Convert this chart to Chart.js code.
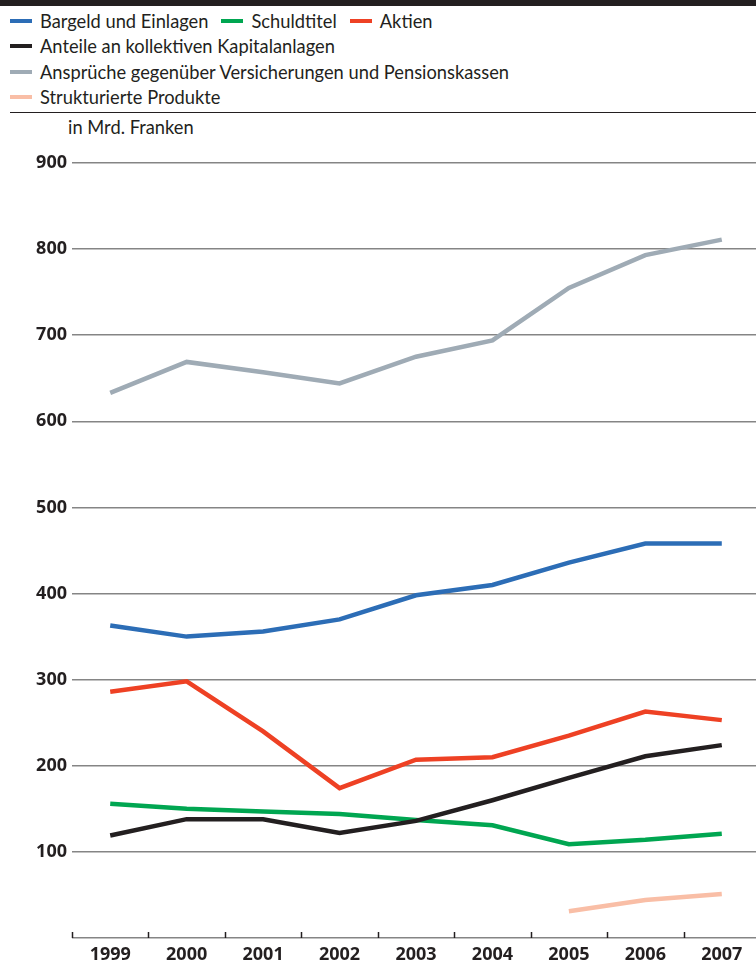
<!DOCTYPE html>
<html>
<head>
<meta charset="utf-8">
<script src="https://cdn.jsdelivr.net/npm/chart.js@4"></script>
<style>
    html, body { margin: 0; padding: 0; background: #fff; overflow: hidden; }
    body { width: 756px; height: 969px; position: relative; font-family: "Lato", "DejaVu Sans", sans-serif; color: #231f20; }
    #topbar { position: absolute; left: 0; top: 0; width: 756px; height: 6px; background: #231f20; }
    #legend { position: absolute; left: 10px; top: 8px; }
    .row { height: 25.5px; display: flex; align-items: center; white-space: nowrap; }
    .item { display: inline-flex; align-items: center; margin-right: 13px; font-size: 18.3px; }
    .swatch { width: 22px; height: 4px; margin-right: 8px; }
    #rule { position: absolute; left: 10px; top: 112px; width: 746px; height: 1px; background: #231f20; }
    #unit { position: absolute; left: 68px; top: 116px; font-size: 18.3px; }
    #wrap { position: absolute; left: 0; top: 140px; width: 760px; height: 829px; }
</style>
</head>
<body>
<div id="topbar"></div>
<div id="legend"></div>
<div id="rule"></div>
<div id="unit">in Mrd. Franken</div>
<div id="wrap"><canvas id="chart"></canvas></div>
<script>
// Values, in Mrd. Franken
const years = ['1999', '2000', '2001', '2002', '2003', '2004', '2005', '2006', '2007'];

const bargeld = [363, 350, 356, 370, 398, 410, 436, 458, 458];
const schuldtitel = [156, 150, 147, 144, 137, 131, 109, 114, 121];
const aktien = [286, 298, 240, 174, 207, 210, 235, 263, 253];
const kollektiv = [119, 138, 138, 122, 136, 160, 186, 211, 224];
const versicherungen = [633, 669, 657, 644, 675, 694, 755, 793, 811];
const strukturiert = [null, null, null, null, null, null, 31, 44, 51];

const yTicks = [0, 100, 200, 300, 400, 500, 600, 700, 800, 900];

const series = [
    { label: 'Bargeld und Einlagen', data: bargeld, color: '#2c6db6' },
    { label: 'Schuldtitel', data: schuldtitel, color: '#00a651' },
    { label: 'Aktien', data: aktien, color: '#ee4124' },
    { label: 'Anteile an kollektiven Kapitalanlagen', data: kollektiv, color: '#231f20' },
    { label: 'Ansprüche gegenüber Versicherungen und Pensionskassen', data: versicherungen, color: '#9fabb5' },
    { label: 'Strukturierte Produkte', data: strukturiert, color: '#f9bea6' }
];

// legend rows (indexes into series)
const legendRows = [[0, 1, 2], [3], [4], [5]];

const legend = document.getElementById('legend');
legendRows.forEach(row => {
    const div = document.createElement('div');
    div.className = 'row';
    row.forEach(i => {
        const item = document.createElement('span');
        item.className = 'item';
        const sw = document.createElement('span');
        sw.className = 'swatch';
        sw.style.background = series[i].color;
        item.appendChild(sw);
        item.appendChild(document.createTextNode(series[i].label));
        div.appendChild(item);
    });
    legend.appendChild(div);
});

// small tick marks pointing up from the x axis, between the years
const axisTicks = {
    id: 'axisTicks',
    afterDraw(chart) {
        const xs = chart.scales.x;
        const ctx = chart.ctx;
        const bottom = chart.chartArea.bottom;
        ctx.save();
        ctx.strokeStyle = '#231f20';
        ctx.lineWidth = 1.5;
        for (let i = 0; i <= years.length; i++) {
            const x = Math.round(xs.getPixelForValue(i - 0.5)) + 0.5;
            ctx.beginPath();
            ctx.moveTo(x, bottom - 6);
            ctx.lineTo(x, bottom);
            ctx.stroke();
        }
        ctx.restore();
    }
};

const tickFont = { family: '"Open Sans", "DejaVu Sans", sans-serif', size: 18, weight: 'bold' };

new Chart(document.getElementById('chart'), {
    type: 'line',
    data: {
        labels: years,
        datasets: series.map(s => ({
            label: s.label,
            data: s.data,
            borderColor: s.color,
            backgroundColor: s.color,
            borderWidth: 4.5,
            borderJoinStyle: 'miter',
            borderCapStyle: 'butt',
            pointRadius: 0,
            tension: 0,
            fill: false,
            spanGaps: false
        })).reverse()
    },
    options: {
        responsive: true,
        maintainAspectRatio: false,
        animation: false,
        layout: { padding: { top: 23, left: 0, right: 0, bottom: 0 } },
        plugins: {
            legend: { display: false },
            tooltip: { enabled: false }
        },
        scales: {
            x: {
                offset: true,
                grid: { display: false, drawTicks: false },
                border: { display: false },
                ticks: { color: '#231f20', font: tickFont, padding: 6, maxRotation: 0 },
                afterFit(scale) { scale.height = 31; }
            },
            y: {
                min: 0,
                max: 900,
                afterBuildTicks(scale) { scale.ticks = yTicks.map(v => ({ value: v })); },
                grid: { color: '#858585', lineWidth: 1.5, drawTicks: false },
                border: { display: false },
                ticks: {
                    color: '#231f20',
                    font: tickFont,
                    padding: 5,
                    callback: v => (v === 0 ? '' : v)
                },
                afterFit(scale) { scale.width = 72; }
            }
        }
    },
    plugins: [axisTicks]
});
</script>
</body>
</html>
